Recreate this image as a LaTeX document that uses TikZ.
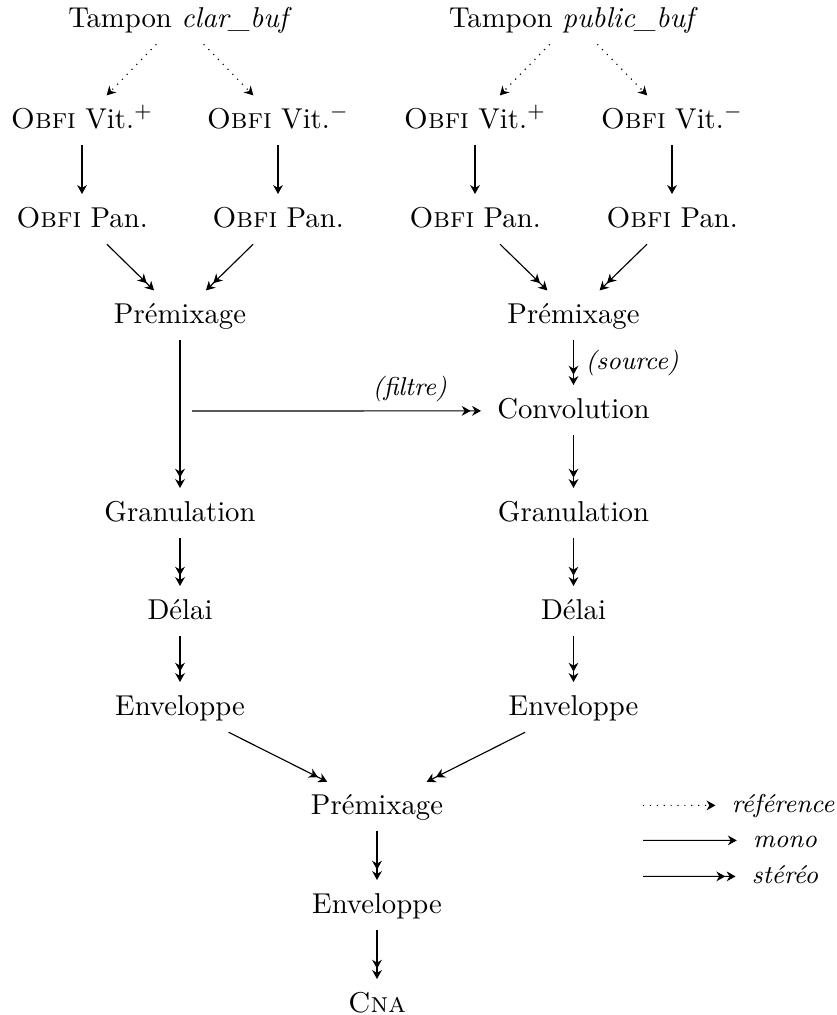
\documentclass[tikz,border=0pt]{standalone}
\usepackage{fontspec}
\usetikzlibrary{arrows.meta}
\begin{document}
\begin{tikzpicture}[x=0.34843pt,y=-0.34843pt,
  >={Stealth[length=3.1pt,width=3.4pt,inset=1pt,sep=0.5pt]},
  box/.style={anchor=base, inner xsep=5pt, inner ysep=3.6pt, text height=7.2pt, text depth=2.2pt},
  lab/.style={font=\small\itshape, inner sep=3pt},
  leg/.style={anchor=base, font=\small\itshape, inner xsep=5pt, inner ysep=2pt, text height=6.6pt, text depth=2pt},
  monoarr/.style={->},
  stereoarr/.style={->>},
  refarr/.style={dotted,->},
]
\useasboundingbox (0,0) rectangle (837,1015);

% left branch
\node[box] (t1) at (180,27) {Tampon \textit{clar\_buf}};
\node[box] (v1) at (82,128) {\textsc{Obfi} Vit.$^{+}$};
\node[box] (v2) at (278,128) {\textsc{Obfi} Vit.$^{-}$};
\node[box] (p1) at (82,227) {\textsc{Obfi} Pan.};
\node[box] (p2) at (278,227) {\textsc{Obfi} Pan.};
\node[box] (m1) at (180,323) {Prémixage};
\node[box] (g1) at (180,521) {Granulation};
\node[box] (d1) at (180,619) {Délai};
\node[box] (e1) at (180,715) {Enveloppe};

% right branch
\node[box] (t2) at (573.5,27) {Tampon \textit{public\_buf}};
\node[box] (v3) at (475,128) {\textsc{Obfi} Vit.$^{+}$};
\node[box] (v4) at (672,128) {\textsc{Obfi} Vit.$^{-}$};
\node[box] (p3) at (475,227) {\textsc{Obfi} Pan.};
\node[box] (p4) at (672,227) {\textsc{Obfi} Pan.};
\node[box] (m2) at (573.5,323) {Prémixage};
\node[box] (cv) at (573.5,418) {Convolution};
\node[box] (g2) at (573.5,521) {Granulation};
\node[box] (d2) at (573.5,619) {Délai};
\node[box] (e2) at (573.5,715) {Enveloppe};

% final
\node[box] (m3) at (377,814) {Prémixage};
\node[box] (e3) at (377,913) {Enveloppe};
\node[box] (cna) at (377,1012) {\textsc{Cna}};

% connectors
\draw[refarr] (t1) -- (v1);
\draw[refarr] (t1) -- (v2);
\draw[refarr] (t2) -- (v3);
\draw[refarr] (t2) -- (v4);
\draw[monoarr] (v1) -- (p1);
\draw[monoarr] (v2) -- (p2);
\draw[monoarr] (v3) -- (p3);
\draw[monoarr] (v4) -- (p4);
\draw[stereoarr] (p1) -- (m1);
\draw[stereoarr] (p2) -- (m1);
\draw[stereoarr] (p3) -- (m2);
\draw[stereoarr] (p4) -- (m2);
\draw[stereoarr] (m1) -- (g1);
\draw[stereoarr] (m2) -- node[lab, right, inner xsep=4pt] {(source)} (cv);
\coordinate (filt) at (192,411);
\draw[stereoarr] (filt) -- node[lab, above, pos=0.75] {(filtre)} (cv);
\draw[stereoarr] (cv) -- (g2);
\draw[stereoarr] (g1) -- (d1);
\draw[stereoarr] (d1) -- (e1);
\draw[stereoarr] (g2) -- (d2);
\draw[stereoarr] (d2) -- (e2);
\draw[stereoarr] (e1) -- (m3);
\draw[stereoarr] (e2) -- (m3);
\draw[stereoarr] (m3) -- (e3);
\draw[stereoarr] (e3) -- (cna);

% legend
\node[leg] (lr) at (783,812) {référence};
\node[leg] (lm) at (785,847) {mono};
\node[leg] (ls) at (785,883) {stéréo};
\coordinate (lr0) at (643,805.4);
\coordinate (lm0) at (643,840.4);
\coordinate (ls0) at (643,876.4);
\draw[refarr] (lr0) -- (lr);
\draw[monoarr] (lm0) -- (lm);
\draw[stereoarr] (ls0) -- (ls);
\end{tikzpicture}
\end{document}
